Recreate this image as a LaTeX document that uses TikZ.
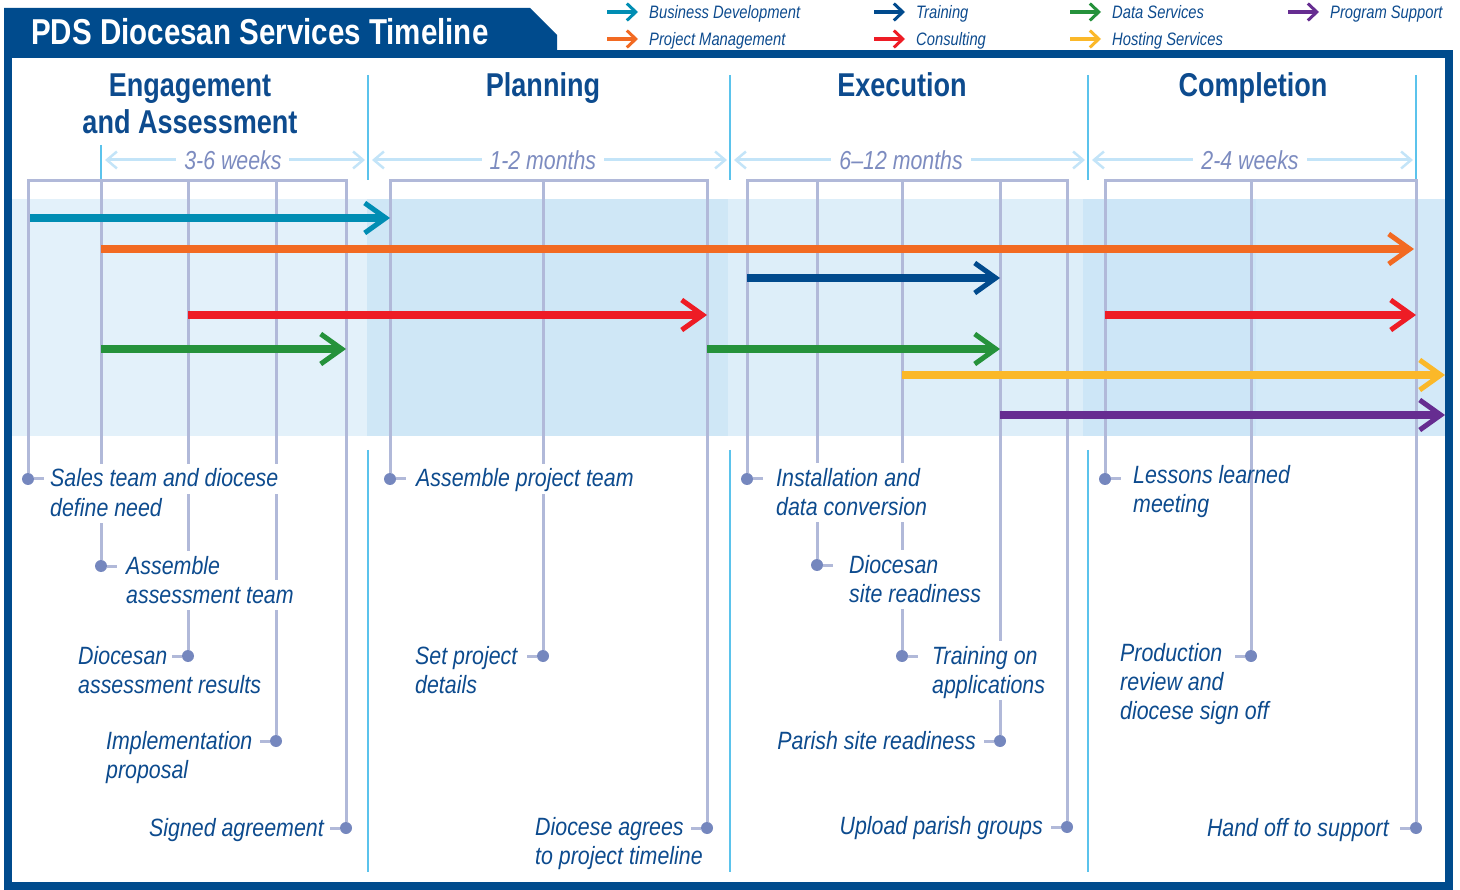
\documentclass[tikz,border=0pt]{standalone}
\usepackage{fontspec}
\setmainfont{Liberation Sans}[FakeStretch=0.82]
\newfontfamily\msfont{Liberation Sans}[FakeStretch=0.855]
\usetikzlibrary{arrows.meta,positioning}

\definecolor{frameblue}{HTML}{004B8D}
\definecolor{textblue}{HTML}{0D4B8E}
\definecolor{spanblue}{HTML}{C3E4F8}
\definecolor{spangray}{HTML}{7D8CC0}
\definecolor{phaseline}{HTML}{5BC3EC}
\definecolor{mscolor}{HTML}{B1B9D9}
\definecolor{dotcolor}{HTML}{7587BE}
\definecolor{bandA}{HTML}{E3F1FA}
\definecolor{bandB}{HTML}{CFE7F6}
\definecolor{bandC}{HTML}{DDEEF9}
\definecolor{bandD}{HTML}{CDE6F7}
\definecolor{bandE}{HTML}{D3E9F8}
\definecolor{bizdev}{HTML}{008DB3}
\definecolor{projmgmt}{HTML}{F26A22}
\definecolor{training}{HTML}{004A8D}
\definecolor{consulting}{HTML}{EE1C25}
\definecolor{dataserv}{HTML}{25923B}
\definecolor{hosting}{HTML}{FBB829}
\definecolor{progsupport}{HTML}{662D91}

% white knock-out behind one line of text
\newcommand\ko[1]{\leavevmode\setbox0=\hbox{#1}%
  \rlap{\hspace{-4pt}\smash{\textcolor{white}{\rule[-7pt]{\dimexpr\wd0+8pt\relax}{30pt}}}}\box0}

\begin{document}
\begin{tikzpicture}[x=1pt,y=-1pt,
    barrow/.style={line width=7.5pt,-{Straight Barb[length=21pt,width=30pt,line width'=5pt]}},
    keyarrow/.style={line width=3.5pt,-{Straight Barb[length=9pt,width=17pt,line width'=3pt]}},
    keytext/.style={font=\fontsize{18}{20}\selectfont\itshape,text=textblue,anchor=base west,inner sep=0pt},
    titletext/.style={font=\fontsize{36}{40}\selectfont\bfseries,text=white,anchor=base west,inner sep=0pt},
    phasehead/.style={font=\fontsize{33}{37}\selectfont\bfseries,text=textblue,align=center,anchor=base,inner sep=0pt},
    spanarrow/.style={draw=spanblue,line width=3pt,shorten <=4pt,shorten >=3pt,
      {Straight Barb[length=10pt,width=17pt,line width'=2.5pt]}-{Straight Barb[length=10pt,width=17pt,line width'=2.5pt]}},
    spanlabel/.style={font=\fontsize{26}{28}\selectfont\itshape,text=spangray,fill=white,inner xsep=8pt,inner ysep=0pt},
    phasediv/.style={draw=phaseline,line width=2.5pt},
    msline/.style={draw=mscolor,line width=3pt},
    msdot/.style={circle,fill=dotcolor,inner sep=0pt,minimum size=12pt},
    mstext/.style={font=\msfont\fontsize{25}{29}\selectfont\itshape,text=textblue,align=left,inner sep=3pt},
  ]
  \useasboundingbox (0,0) rectangle (1460,890);

  % Background bands
  \fill[bandA] (12,199) rectangle (367,436);
  \fill[bandB] (367,199) rectangle (728,436);
  \fill[bandC] (728,199) rectangle (1083,436);
  \fill[bandD] (1083,199) rectangle (1256,436);
  \fill[bandE] (1256,199) rectangle (1445,436);

  % Title and frame
  \fill[frameblue] (4,8) -- (530,8) -- (557,35) -- (557,58) -- (4,58) -- cycle;
  \draw[frameblue,line width=8pt] (8,54) rectangle (1449,886);
  \node[titletext] (title) at (31,45) {PDS Diocesan Services Timeline};

  % Legend
  \foreach \col/\name/\x/\y in {bizdev/Business Development/607/12,
      projmgmt/Project Management/607/39,
      training/Training/874/12,
      consulting/Consulting/874/39,
      dataserv/Data Services/1070/12,
      hosting/Hosting Services/1070/39,
      progsupport/Program Support/1288/12}{
    \coordinate (k\col) at (\x,\y);
    \draw[keyarrow,\col] (k\col) -- ++(31,0);
    \node[keytext] (l\col) at ([xshift=42pt,yshift=-6.5pt]k\col) {\name};
  }

  % Phases (multi-line nodes sit on their last line)
  \node[phasehead] (engage) at (190,134) {Engagement\\and Assessment};
  \node[phasehead] (plan) at (543,97) {Planning};
  \node[phasehead] (exec) at (902,97) {Execution};
  \node[phasehead] (compl) at (1253,97) {Completion};

  \coordinate (p0) at (101,160);
  \coordinate (p1) at (368,160);
  \coordinate (p2) at (730,160);
  \coordinate (p3) at (1088,160);
  \coordinate (p4) at (1416,160);
  \draw[phasediv] (101,145) -- (101,180);
  \foreach \x in {368,730,1088,1416}
    \draw[phasediv] (\x,75) -- (\x,180);
  \foreach \x in {368,730,1088}
    \draw[phasediv] (\x,450) -- (\x,872);

  \draw[spanarrow] (p0) -- node[spanlabel,pos=0.494] (w1) {3-6 weeks} (p1);
  \draw[spanarrow] (p1) -- node[spanlabel,pos=0.483] (w2) {1-2 months} (p2);
  \draw[spanarrow] (p2) -- node[spanlabel,pos=0.478] (w3) {6–12 months} (p3);
  \draw[spanarrow] (p3) -- node[spanlabel,pos=0.494] (w4) {2-4 weeks} (p4);

  % Milestones
  \coordinate (top) at (0,181);
  \node[msdot] (m1) at (28,479) {};
  \node[msdot] (m2) at (101,566) {};
  \node[msdot] (m3) at (188,656) {};
  \node[msdot] (m4) at (276,741) {};
  \node[msdot] (m5) at (346,828) {};
  \node[msdot] (m6) at (390,479) {};
  \node[msdot] (m7) at (543,656) {};
  \node[msdot] (m8) at (707,828) {};
  \node[msdot] (m9) at (747,479) {};
  \node[msdot] (m10) at (817,565) {};
  \node[msdot] (m11) at (902,656) {};
  \node[msdot] (m12) at (1000,741) {};
  \node[msdot] (m13) at (1067,827) {};
  \node[msdot] (m14) at (1105,479) {};
  \node[msdot] (m15) at (1251,656) {};
  \node[msdot] (m16) at (1416,828) {};

  \draw[msline] (m1) -- (m1 |- top) -- (m5 |- top) -- (m5);
  \draw[msline] (m6) -- (m6 |- top) -- (m8 |- top) -- (m8);
  \draw[msline] (m9) -- (m9 |- top) -- (m13 |- top) -- (m13);
  \draw[msline] (m14) -- (m14 |- top) -- (m16 |- top) -- (m16);
  \foreach \m in {m2,m3,m4,m7,m10,m11,m12,m15}
    \draw[msline] (\m) -- (\m |- top);

  % Service bars
  \coordinate (edge) at (1445,0);
  \coordinate (rowA) at (0,218);
  \coordinate (rowB) at (0,249);
  \coordinate (rowC) at (0,278);
  \coordinate (rowD) at (0,315);
  \coordinate (rowE) at (0,349);
  \coordinate (rowF) at (0,375);
  \coordinate (rowG) at (0,415);
  \draw[barrow,bizdev] ([xshift=2pt]m1 |- rowA) -- (m6 |- rowA);
  \draw[barrow,projmgmt] (m2 |- rowB) -- ([xshift=-2pt]m16 |- rowB);
  \draw[barrow,training] (m9 |- rowC) -- (m12 |- rowC);
  \draw[barrow,consulting] (m3 |- rowD) -- (m8 |- rowD);
  \draw[barrow,consulting] (m14 |- rowD) -- (m16 |- rowD);
  \draw[barrow,dataserv] (m2 |- rowE) -- (m5 |- rowE);
  \draw[barrow,dataserv] (m8 |- rowE) -- (m12 |- rowE);
  \draw[barrow,hosting] (m11 |- rowF) -- (edge |- rowF);
  \draw[barrow,progsupport] (m12 |- rowG) -- (edge |- rowG);

  % Milestone texts (base is the last line)
  \node[mstext,anchor=base west] (t1) at (47,516) {\ko{Sales team and diocese}\\\ko{define need}};
  \node[mstext,anchor=base west] (t2) at (123,603) {\ko{Assemble}\\\ko{assessment team}};
  \node[mstext,anchor=base west] (t3) at (75,693) {\ko{Diocesan}\\\ko{assessment results}};
  \node[mstext,anchor=base west] (t4) at (103,778) {\ko{Implementation}\\\ko{proposal}};
  \node[mstext,anchor=base east] (t5) at (327,836) {\ko{Signed agreement}};
  \node[mstext,anchor=base west] (t6) at (413,487) {\ko{Assemble project team}};
  \node[mstext,anchor=base west] (t7) at (412,693) {\ko{Set project}\\\ko{details}};
  \node[mstext,anchor=base west] (t8) at (532,864) {\ko{Diocese agrees}\\\ko{to project timeline}};
  \node[mstext,anchor=base west] (t9) at (773,515) {\ko{Installation and}\\\ko{data conversion}};
  \node[mstext,anchor=base west] (t10) at (846,602) {\ko{Diocesan}\\\ko{site readiness}};
  \node[mstext,anchor=base west] (t11) at (929,693) {\ko{Training on}\\\ko{applications}};
  \node[mstext,anchor=base east] (t12) at (979,749) {\ko{Parish site readiness}};
  \node[mstext,anchor=base east] (t13) at (1046,834) {\ko{Upload parish groups}};
  \node[mstext,anchor=base west] (t14) at (1130,513) {Lessons learned\\meeting};
  \node[mstext,anchor=base west] (t15) at (1117,719) {\ko{Production}\\\ko{review and}\\\ko{diocese sign off}};
  \node[mstext,anchor=base east] (t16) at (1392,836) {\ko{Hand off to support}};

  % Stubs
  \foreach \m in {m1,m2,m6,m9,m10,m11,m14}
    \draw[msline] (\m) -- ++(16,0);
  \foreach \m in {m3,m4,m5,m7,m8,m12,m13,m15,m16}
    \draw[msline] (\m) -- ++(-16,0);

\end{tikzpicture}
\end{document}
